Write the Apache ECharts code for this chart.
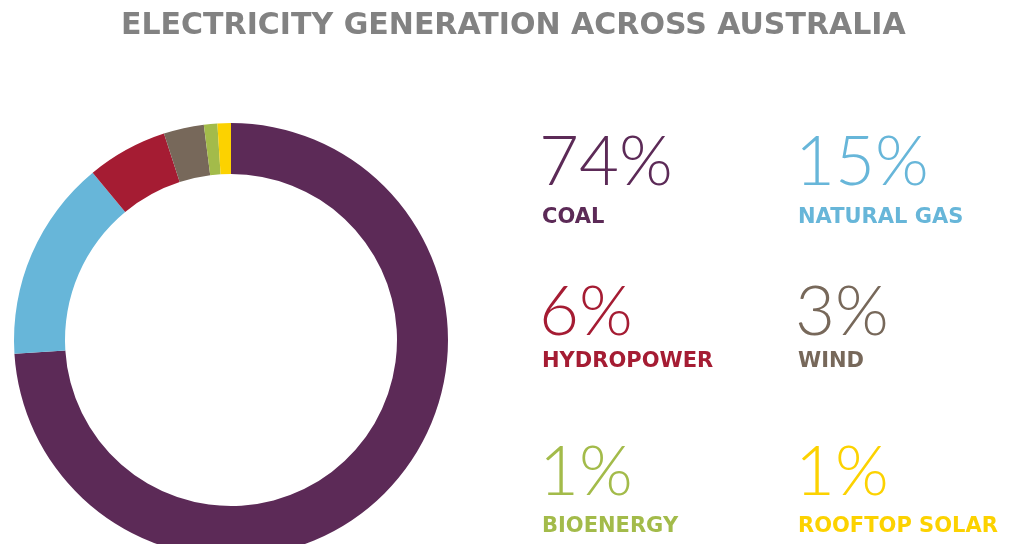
<!DOCTYPE html>
<html>
<head>
<meta charset="utf-8">
<title>Electricity generation across Australia</title>
<script src="https://cdn.jsdelivr.net/npm/echarts@6/dist/echarts.min.js"></script>
<style>
  html, body { margin: 0; padding: 0; background: #fff; }
  #chart { width: 1015px; height: 544px; }
</style>
</head>
<body>
<div id="chart"></div>
<script>
// data
const sources = ["COAL", "NATURAL GAS", "HYDROPOWER", "WIND", "BIOENERGY", "ROOFTOP SOLAR"];
const shares = [74, 15, 6, 3, 1, 1];
const colors = ["#5c2a57", "#67b6d9", "#a51c33", "#77685a", "#a3bb4a", "#fcd200"];

const chart = echarts.init(document.getElementById("chart"));

// two columns, three rows of big percent + name
const colX = [539, 795];
const pctTop = [128, 278, 438];
const nameTop = [207, 351, 516];
const labels = [];
sources.forEach((name, i) => {
  const x = colX[i % 2];
  const row = Math.floor(i / 2);
  labels.push({
    type: "text",
    left: x,
    top: pctTop[row],
    style: {
      text: shares[i] + "%",
      fill: colors[i],
      fontFamily: "Lato",
      fontWeight: 300,
      fontSize: 69
    }
  });
  labels.push({
    type: "text",
    left: x + 3,
    top: nameTop[row],
    style: {
      text: name,
      fill: colors[i],
      fontFamily: "DejaVu Sans",
      fontWeight: "bold",
      fontSize: 21
    }
  });
});

const option = {
  animation: false,
  title: {
    text: "ELECTRICITY GENERATION ACROSS AUSTRALIA",
    left: 116,
    top: 6,
    textStyle: {
      color: "#828282",
      fontFamily: "DejaVu Sans",
      fontWeight: "bold",
      fontSize: 30
    }
  },
  graphic: labels,
  series: [
    {
      type: "pie",
      silent: true,
      center: [231, 340],
      radius: [166, 217],
      startAngle: 90,
      clockwise: true,
      label: { show: false },
      labelLine: { show: false },
      itemStyle: { borderWidth: 0 },
      data: sources.map((name, i) => ({
        name: name,
        value: shares[i],
        itemStyle: { color: colors[i] }
      }))
    }
  ]
};

chart.setOption(option);
</script>
</body>
</html>
